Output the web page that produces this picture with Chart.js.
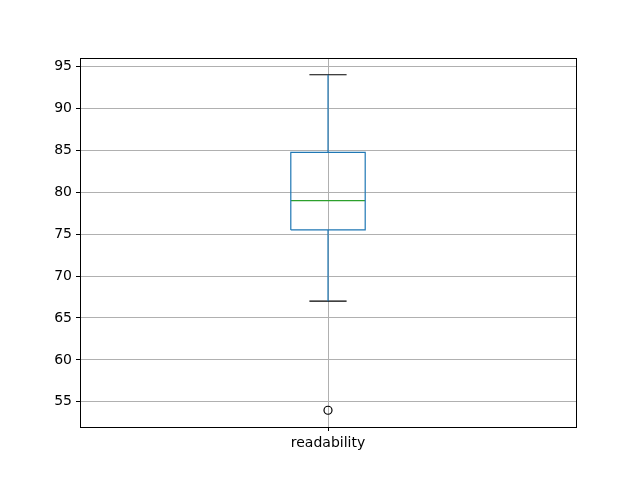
<!DOCTYPE html>
<html>
<head>
<meta charset="utf-8">
<script src="https://cdn.jsdelivr.net/npm/chart.js@4/dist/chart.umd.min.js"></script>
<style>
  html, body { margin: 0; padding: 0; background: #fff; }
  canvas { display: block; }
</style>
</head>
<body>
<canvas id="boxChart" width="640" height="480"></canvas>
<script>
// Box plot values
const categories = ['readability'];
const whiskerLow = [67];
const q1 = [75.5];
const median = [79];
const q3 = [84.75];
const whiskerHigh = [94];
const outliers = [[54]];
const yTicks = [55, 60, 65, 70, 75, 80, 85, 90, 95];

// matplotlib-like sizes: box width 0.15, caps half of that
const BOX_W = 0.15;
const CAP_W = BOX_W / 2;

const blue = '#1f77b4';
const green = '#2ca02c';

// Build datasets from the arrays
const datasets = [];
categories.forEach((name, i) => {
    const pos = i + 1;
    const l = pos - BOX_W / 2, r = pos + BOX_W / 2;
    // box outline
    datasets.push({
        type: 'line',
        data: [
            { x: l, y: q1[i] }, { x: r, y: q1[i] }, { x: r, y: q3[i] },
            { x: l, y: q3[i] }, { x: l, y: q1[i] }
        ],
        borderColor: blue, borderWidth: 1.2, pointRadius: 0, fill: false
    });
    // whiskers
    datasets.push({
        type: 'line',
        data: [{ x: pos, y: q3[i] }, { x: pos, y: whiskerHigh[i] }],
        borderColor: blue, borderWidth: 1.2, pointRadius: 0
    });
    datasets.push({
        type: 'line',
        data: [{ x: pos, y: q1[i] }, { x: pos, y: whiskerLow[i] }],
        borderColor: blue, borderWidth: 1.2, pointRadius: 0
    });
    // caps
    [whiskerHigh[i], whiskerLow[i]].forEach(v => {
        datasets.push({
            type: 'line',
            data: [{ x: pos - CAP_W / 2, y: v }, { x: pos + CAP_W / 2, y: v }],
            borderColor: '#000', borderWidth: 1.2, pointRadius: 0
        });
    });
    // median
    datasets.push({
        type: 'line',
        data: [{ x: l, y: median[i] }, { x: r, y: median[i] }],
        borderColor: green, borderWidth: 1.2, pointRadius: 0
    });
    // fliers
    datasets.push({
        type: 'scatter',
        data: outliers[i].map(v => ({ x: pos, y: v })),
        pointStyle: 'circle', pointRadius: 4, borderWidth: 1.2,
        borderColor: '#000', backgroundColor: 'rgba(0,0,0,0)'
    });
});

// frame around the plot area (all four spines)
const framePlugin = {
    id: 'frame',
    afterDraw(chart) {
        const { ctx, chartArea: a } = chart;
        ctx.save();
        ctx.strokeStyle = '#000';
        ctx.lineWidth = 1;
        ctx.strokeRect(a.left + 0.5, a.top + 0.5, a.right - a.left, a.bottom - a.top);
        ctx.restore();
    }
};

new Chart(document.getElementById('boxChart').getContext('2d'), {
    type: 'scatter',
    data: { datasets: datasets },
    options: {
        responsive: false,
        animation: false,
        events: [],
        layout: { padding: { top: 58, right: 64, left: 0, bottom: 0 } },
        plugins: { legend: { display: false }, tooltip: { enabled: false } },
        elements: { line: { tension: 0 } },
        scales: {
            x: {
                type: 'linear',
                min: 0.5,
                max: 0.5 + categories.length,
                afterBuildTicks: (axis) => {
                    axis.ticks = categories.map((c, i) => ({ value: i + 1 }));
                },
                afterFit: (axis) => { axis.height = 53; },
                ticks: {
                    color: '#000',
                    font: { family: 'DejaVu Sans', size: 14 },
                    padding: 4,
                    maxRotation: 0,
                    callback: (v) => categories[Math.round(v) - 1] || ''
                },
                grid: { color: '#b0b0b0', tickColor: '#000', tickLength: 4, lineWidth: 1 },
                border: { display: false }
            },
            y: {
                min: 52,
                max: 96,
                afterBuildTicks: (axis) => {
                    axis.ticks = yTicks.map(v => ({ value: v }));
                },
                afterFit: (axis) => { axis.width = 80; },
                ticks: {
                    color: '#000',
                    font: { family: 'DejaVu Sans', size: 14 },
                    padding: 4
                },
                grid: { color: '#b0b0b0', tickColor: '#000', tickLength: 4, lineWidth: 1 },
                border: { display: false }
            }
        }
    },
    plugins: [framePlugin]
});
</script>
</body>
</html>
